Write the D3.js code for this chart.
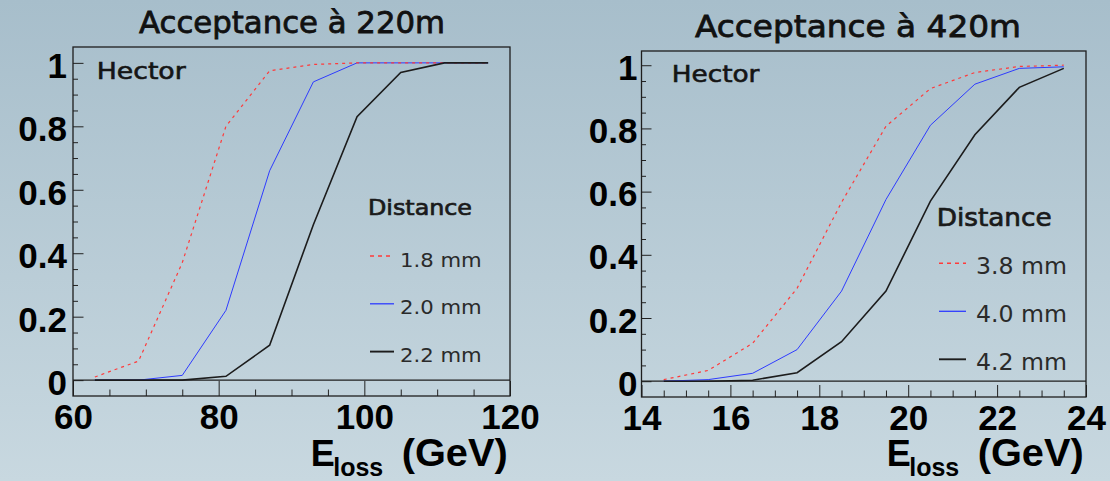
<!DOCTYPE html>
<html>
<head>
<meta charset="utf-8">
<script src="https://cdn.jsdelivr.net/npm/d3@7"></script>
<style>
  html, body { margin: 0; padding: 0; }
  svg { display: block; }
</style>
</head>
<body>
<svg id="chart" width="1110" height="481"></svg>
<script>
// ---- data -------------------------------------------------------------
// Energy loss sample points (GeV) and acceptance for each beam distance
const eloss220   = [63, 69, 75, 81, 87, 93, 99, 105, 111, 117];
const acc220_18  = [0.01, 0.06, 0.37, 0.80, 0.975, 0.995, 1.0, 1.0, 1.0, 1.0];
const acc220_20  = [0.0, 0.0, 0.015, 0.22, 0.66, 0.94, 1.0, 1.0, 1.0, 1.0];
const acc220_22  = [0.0, 0.0, 0.0, 0.012, 0.11, 0.49, 0.83, 0.97, 1.0, 1.0];

const eloss420   = [14.5, 15.5, 16.5, 17.5, 18.5, 19.5, 20.5, 21.5, 22.5, 23.5];
const acc420_38  = [0.005, 0.034, 0.12, 0.294, 0.566, 0.807, 0.926, 0.977, 0.996, 1.0];
const acc420_40  = [0.0, 0.005, 0.025, 0.10, 0.285, 0.575, 0.81, 0.94, 0.99, 0.995];
const acc420_42  = [0.0, 0.0, 0.003, 0.027, 0.125, 0.285, 0.57, 0.78, 0.93, 0.99];

const distances220 = ["1.8 mm", "2.0 mm", "2.2 mm"];
const distances420 = ["3.8 mm", "4.0 mm", "4.2 mm"];
const titles       = ["Acceptance à 220m", "Acceptance à 420m"];
const xTicks220    = [60, 80, 100, 120];
const xTicks420    = [14, 16, 18, 20, 22, 24];
const yTicks       = [0, 0.2, 0.4, 0.6, 0.8, 1];
const legendTitle  = "Distance";
const tagText      = "Hector";

// ---- styles -----------------------------------------------------------
const seriesStyle = [
  { color: "#ff3a3a", width: 1.2, dash: "3,4" },   // nearest distance
  { color: "#2e3bff", width: 1.0, dash: null  },
  { color: "#1c1c1c", width: 1.6, dash: null  }
];
const drawOrder = [1, 0, 2];
const sansFont = "'DejaVu Sans', sans-serif";
const axisFont = "'Liberation Sans', Arial, sans-serif";

const svg = d3.select("#chart");

// background wash
const defs = svg.append("defs");
const grad = defs.append("linearGradient").attr("id", "bg")
  .attr("x1", 0).attr("y1", 0).attr("x2", 0).attr("y2", 1);
grad.append("stop").attr("offset", "0%").attr("stop-color", "#a7becb");
grad.append("stop").attr("offset", "100%").attr("stop-color", "#c8d8e0");
svg.append("rect").attr("width", 1110).attr("height", 481).attr("fill", "url(#bg)");

// medium-weight label: regular glyphs thickened by a thin outline
function mediumText(sel, color, stroke) {
  return sel.attr("font-family", sansFont).attr("fill", color)
    .attr("stroke", color).attr("stroke-width", stroke)
    .attr("lengthAdjust", "spacingAndGlyphs");
}

function drawPanel(p) {
  const g = svg.append("g");
  const x = d3.scaleLinear().domain(p.xDomain).range([p.left, p.right]);
  const y = d3.scaleLinear().domain(p.yDomain).range([p.bottom, p.top]);

  // y axis: major + minor ticks pointing inward
  const minorY = d3.range(0, 1.0001, 0.05).filter(v => Math.abs(v * 5 - Math.round(v * 5)) > 1e-6);
  const yAxis = g.append("g").attr("transform", `translate(${p.left},0)`)
    .call(d3.axisLeft(y).tickValues(yTicks).tickSize(-p.yMajor).tickPadding(p.yPad)
      .tickFormat(d3.format("~g")));
  yAxis.selectAll("text").attr("dy", p.yDy + "px")
    .attr("font-family", axisFont)
    .attr("font-weight", "bold").attr("font-size", 35).attr("fill", "#000");
  g.append("g").attr("transform", `translate(${p.left},0)`)
    .call(d3.axisLeft(y).tickValues(minorY).tickSize(-p.yMinor).tickFormat(""));

  // x axis along the frame bottom
  const xAxis = g.append("g").attr("transform", `translate(0,${p.bottom})`)
    .call(d3.axisBottom(x).tickValues(p.xTicks).tickSize(-p.xMajor).tickPadding(p.xPad)
      .tickFormat(d3.format("d")));
  xAxis.selectAll("text")
    .attr("font-family", axisFont)
    .attr("font-weight", "bold").attr("font-size", 35).attr("fill", "#000");
  g.append("g").attr("transform", `translate(0,${p.bottom})`)
    .call(d3.axisBottom(x).tickValues(p.xMinor).tickSize(-p.xMinorLen).tickFormat(""));

  g.selectAll(".domain").remove();
  g.selectAll(".tick line").attr("stroke", "#222").attr("stroke-width", 1);

  // frame and zero line
  g.append("rect").attr("x", p.left).attr("y", p.top)
    .attr("width", p.right - p.left).attr("height", p.bottom - p.top)
    .attr("fill", "none").attr("stroke", "#1e1e1e").attr("stroke-width", 1.3);
  g.append("line").attr("x1", p.left).attr("x2", p.right)
    .attr("y1", y(0)).attr("y2", y(0)).attr("stroke", "#1e1e1e").attr("stroke-width", 1.2);

  // acceptance curves
  const line = d3.line().x(d => x(d[0])).y(d => y(d[1]));
  drawOrder.forEach(i => {
    const pts = p.xs.map((e, k) => [e, p.series[i][k]]);
    const s = seriesStyle[i];
    g.append("path").datum(pts).attr("d", line)
      .attr("fill", "none").attr("stroke", s.color).attr("stroke-width", s.width)
      .attr("stroke-dasharray", s.dash);
  });

  // title
  mediumText(g.append("text").text(p.title), "#111", 0.8)
    .attr("x", p.titleX).attr("y", p.titleY).attr("font-size", 31)
    .attr("textLength", p.titleW);

  // generator tag
  mediumText(g.append("text").text(tagText), "#151515", 0.6)
    .attr("x", p.tagX).attr("y", p.tagY).attr("font-size", 23)
    .attr("textLength", p.tagW);

  // legend
  mediumText(g.append("text").text(legendTitle), "#1a1a1a", 0.7)
    .attr("x", p.legX).attr("y", p.legTitleY).attr("font-size", p.legTitleSize)
    .attr("textLength", p.legTitleW);
  p.labels.forEach((lab, i) => {
    const s = seriesStyle[i];
    const ly = p.legRow0 + i * p.legStep;
    g.append("line").attr("x1", p.legLineX0).attr("x2", p.legLineX1)
      .attr("y1", ly).attr("y2", ly)
      .attr("stroke", s.color).attr("stroke-width", s.width + 0.3)
      .attr("stroke-dasharray", s.dash ? "4,4" : null);
    g.append("text").text(lab)
      .attr("x", p.legTextX).attr("y", ly + p.legTextDy)
      .attr("font-family", sansFont)
      .attr("font-size", p.legSize).attr("fill", "#2a2a2a")
      .attr("textLength", p.legTextW).attr("lengthAdjust", "spacingAndGlyphs");
  });

  // x-axis title  E_loss (GeV)
  g.append("text").text("E").attr("x", p.axX).attr("y", 466)
    .attr("font-family", axisFont).attr("font-weight", "bold").attr("font-size", 36).attr("fill", "#000");
  g.append("text").text("loss").attr("x", p.axX + 22.5).attr("y", 475.5)
    .attr("font-family", axisFont).attr("font-weight", "bold").attr("font-size", 25).attr("fill", "#000");
  g.append("text").text("(GeV)").attr("x", p.axX + 91).attr("y", 466)
    .attr("font-family", axisFont).attr("font-weight", "bold").attr("font-size", 38).attr("fill", "#000")
    .attr("textLength", 106).attr("lengthAdjust", "spacingAndGlyphs");
}

drawPanel({
  xDomain: [60, 120], yDomain: [-0.05, 1.05],
  left: 73, right: 510, top: 47, bottom: 396,
  xTicks: xTicks220, xMinor: d3.range(65, 120, 5).filter(v => v % 20 !== 0),
  xs: eloss220, series: [acc220_18, acc220_20, acc220_22], labels: distances220,
  yMajor: 10.5, yMinor: 5, yPad: 6, yDy: 14.5,
  xMajor: 15, xMinorLen: 6.5, xPad: 8,
  title: titles[0], titleX: 139, titleY: 33.3, titleW: 306,
  tagX: 96.7, tagY: 79, tagW: 89,
  legX: 368, legTitleY: 215, legTitleSize: 21, legTitleW: 104,
  legRow0: 256, legStep: 47.8, legLineX0: 370, legLineX1: 394,
  legTextX: 400, legTextDy: 10.5, legSize: 19.5, legTextW: 81.7,
  axX: 310.7
});

drawPanel({
  xDomain: [14, 24], yDomain: [-0.05, 1.045],
  left: 641.5, right: 1086, top: 51, bottom: 397,
  xTicks: xTicks420, xMinor: d3.range(14.5, 24, 0.5).filter(v => v % 2 !== 0),
  xs: eloss420, series: [acc420_38, acc420_40, acc420_42], labels: distances420,
  yMajor: 10, yMinor: 4.5, yPad: 4, yDy: 14,
  xMajor: 12, xMinorLen: 6.5, xPad: 8,
  title: titles[1], titleX: 695, titleY: 37.3, titleW: 326,
  tagX: 671.7, tagY: 81.7, tagW: 87.7,
  legX: 936.7, legTitleY: 225.7, legTitleSize: 24, legTitleW: 115,
  legRow0: 263.3, legStep: 48, legLineX0: 939, legLineX1: 966,
  legTextX: 976, legTextDy: 10.2, legSize: 23, legTextW: 91,
  axX: 886.7
});
</script>
</body>
</html>
